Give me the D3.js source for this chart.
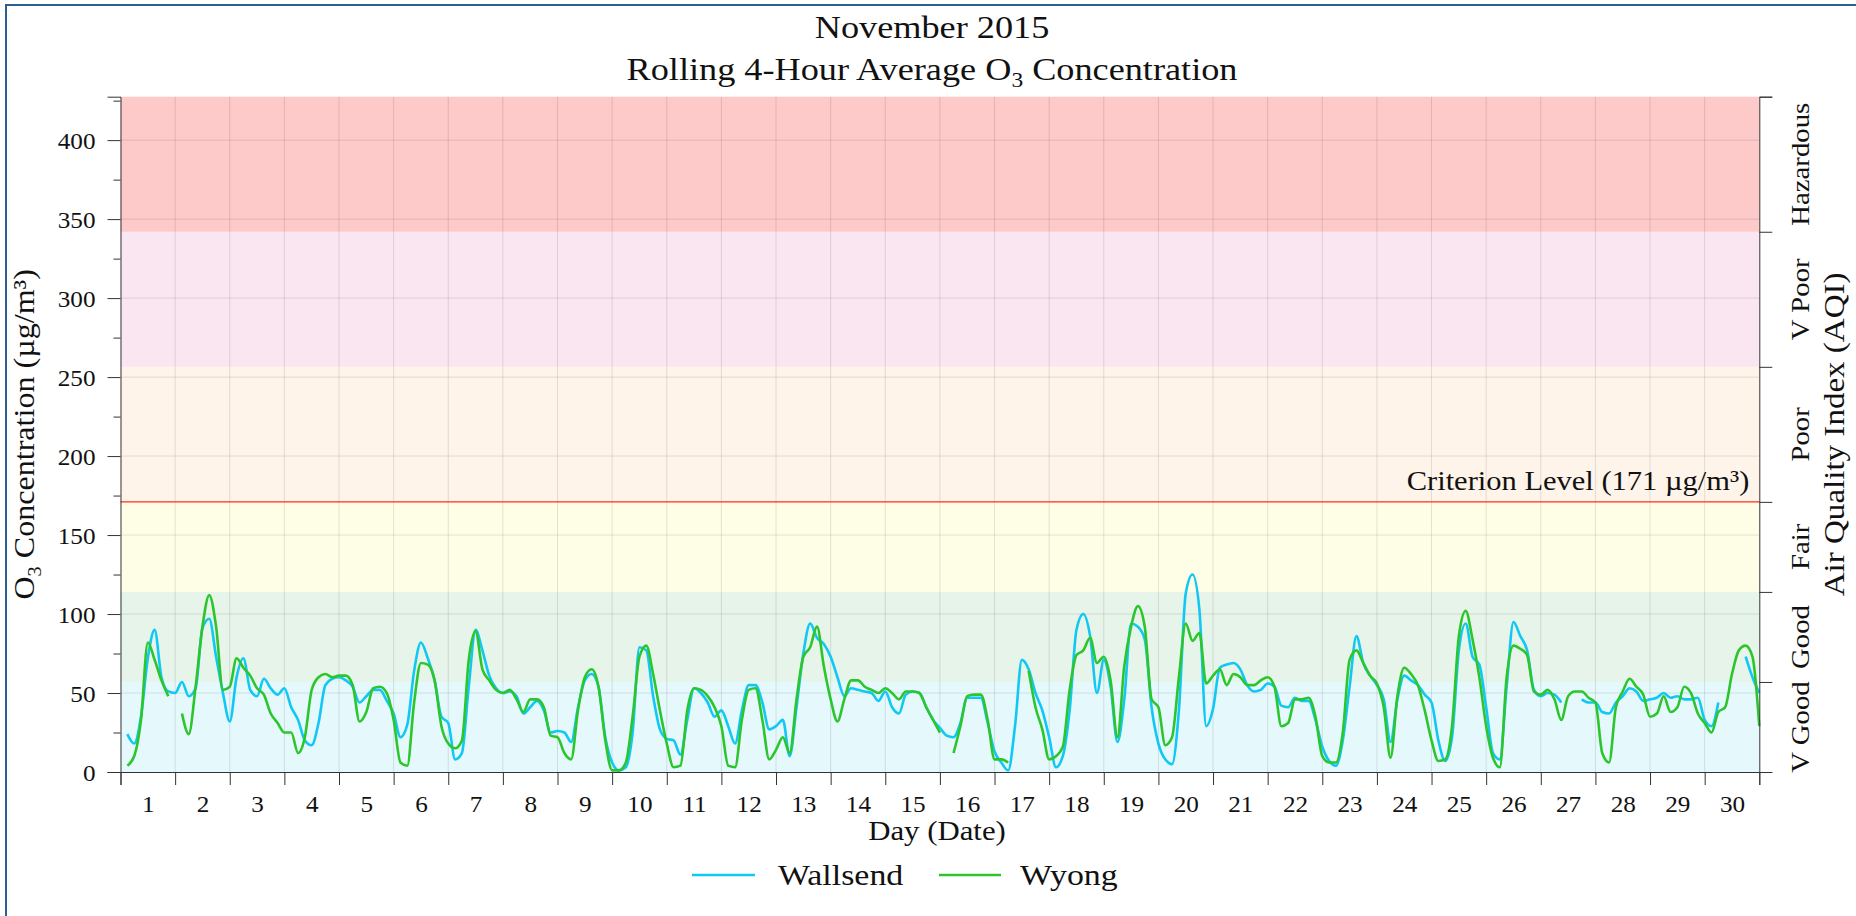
<!DOCTYPE html>
<html>
<head>
    <meta charset="utf-8">
    <script src="https://d3js.org/d3.v7.js"></script>
    <style type="text/css">
        body {
            margin: 0;
            background: #fff;
        }
        text {
            font-family: "Liberation Serif", "DejaVu Serif", serif;
            fill: #111;
        }
        .axis path, .axis line {
            stroke: #333;
        }
        .grid line {
            stroke: #000;
            stroke-opacity: 0.11;
        }
    </style>
</head>
<body>
<svg width="1856" height="916"></svg>
<script>
    // hours since 1 Nov 00:00, one reading every 3 hours
    var hours = d3.range(0, 723, 3);

    var wallsend = [
        null, 24, 18, 35, 72, 90, 60, 51,
        50, 57, 48, 53, 91, 97, 73, 50,
        32, 60, 72, 52, 48, 59, 53, 49,
        53, 41, 33, 20, 17, 31, 55, 59,
        60, 58, 54, 44, 48, 52, 52, 45,
        37, 22, 30, 64, 82, 72, 58, 35,
        31, 8, 12, 54, 90, 77, 61, 53,
        50, 51, 48, 37, 41, 45, 39, 25,
        26, 25, 19, 41, 58, 62, 54, 22,
        6, 1, 3, 25, 79, 77, 48, 27,
        21, 20, 11, 33, 53, 50, 44, 35,
        39, 29, 18, 39, 55, 55, 44, 27,
        29, 33, 10, 41, 75, 94, 85, 81,
        73, 60, 48, 53, 52, 51, 50, 45,
        51, 41, 37, 49, 51, 50, 41, 33,
        28, 23, 22, 31, 47, 47, 47, 31,
        13, 6, 1, 29, 71, 65, 50, 39,
        22, 3, 10, 39, 90, 100, 86, 50,
        71, 54, 19, 46, 94, 92, 84, 41,
        18, 8, 5, 39, 113, 125, 103, 29,
        40, 66, 68, 69, 65, 55, 51, 52,
        56, 54, 42, 41, 47, 45, 45, 33,
        16, 7, 4, 20, 54, 86, 69, 61,
        55, 46, 19, 46, 61, 58, 55, 49,
        44, 20, 7, 22, 77, 94, 73, 68,
        41, 12, 8, 54, 95, 86, 77, 52,
        48, 50, 49, 44, null, null, 46, 44,
        44, 38, 37, 44, 48, 53, 51, 45,
        46, 47, 50, 47, 48, 46, 46, 47,
        33, 29, 44, null, null, null, 73, 60,
        50
    ];

    var wyong = [
        null, 4, 10, 33, 82, 71, 58, 48,
        null, 37, 24, 54, 92, 112, 92, 52,
        54, 72, 66, 61, 53, 49, 37, 31,
        25, 25, 12, 22, 52, 60, 62, 60,
        61, 61, 55, 32, 38, 53, 54, 50,
        33, 6, 4, 44, 69, 68, 58, 29,
        18, 15, 20, 71, 89, 65, 58, 52,
        50, 52, 46, 38, 46, 46, 41, 23,
        22, 12, 8, 39, 60, 65, 54, 20,
        1, 1, 6, 35, 73, 80, 62, 39,
        18, 3, 4, 39, 53, 52, 48, 41,
        29, 4, 3, 33, 52, 53, 33, 8,
        14, 22, 12, 46, 73, 79, 92, 67,
        46, 32, 46, 58, 58, 54, 52, 50,
        53, 50, 46, 51, 51, 50, 41, 33,
        25, null, 12, 29, 48, 49, 49, 33,
        8, 8, 6, null, null, 64, 41, 27,
        8, 10, 16, 52, 74, 77, 85, 69,
        73, 58, 22, 67, 92, 105, 92, 46,
        41, 17, 22, 60, 94, 83, 88, 56,
        61, 65, 55, 62, 60, 55, 55, 58,
        60, 54, 29, 31, 46, 46, 47, 35,
        10, 6, 6, 25, 71, 77, 69, 61,
        56, 41, 9, 48, 66, 62, 55, 39,
        20, 7, 8, 29, 86, 102, 84, 60,
        29, 9, 3, 60, 80, 78, 74, 51,
        49, 52, 46, 33, 48, 51, 51, 47,
        44, 12, 6, 41, 51, 59, 54, 49,
        35, 37, 48, 38, 41, 54, 50, 37,
        31, 25, 38, 41, 62, 77, 80, 73,
        29
    ];

    var dayLabels = d3.range(1, 31);
    var yTicks = [0, 50, 100, 150, 200, 250, 300, 350, 400];
    var yMinorTicks = [25, 75, 125, 175, 225, 275, 325, 375, 425];
    var aqiBreaks = [0, 57, 114, 171, 256.5, 342, 427.5];
    var aqiNames = ["V Good", "Good", "Fair", "Poor", "V Poor", "Hazardous"];
    var aqiColors = ["#e5f9fd", "#e6f4e9", "#fefee6", "#fef4ea", "#fae6f0", "#fdc9c9"];
    var criterion = 171;

    var svg = d3.select("svg");
    var margin = {top: 96.7, right: 96.7, bottom: 144, left: 120.5},
        width = 1856 - margin.left - margin.right,
        height = 916 - margin.top - margin.bottom;

    // the serif in the original is wider than Liberation, so text gets a small horizontal stretch
    function label(parent, x, y, size, sx, rotate, anchor) {
        return parent.append("text")
            .attr("transform", `translate(${x}, ${y})` + (rotate ? " rotate(-90)" : "") + ` scale(${sx}, 1)`)
            .attr("text-anchor", anchor || "middle")
            .style("font-size", size + "px");
    }

    // outer frame
    svg.append("rect")
        .attr("x", 6).attr("y", 5)
        .attr("width", 1900).attr("height", 1000)
        .attr("fill", "none")
        .attr("stroke", "#2b5f8f")
        .attr("stroke-width", 2);

    var g = svg.append("g").attr("transform", `translate(${margin.left}, ${margin.top})`);

    var x = d3.scaleLinear().domain([0, 30]).range([0, width]);
    var y = d3.scaleLinear().domain([0, 427.5]).range([height, 0]);

    // AQI bands
    g.selectAll(".band")
        .data(aqiNames)
        .enter().append("rect")
        .attr("class", "band")
        .attr("x", 0)
        .attr("width", width)
        .attr("y", (d, i) => y(aqiBreaks[i + 1]))
        .attr("height", (d, i) => y(aqiBreaks[i]) - y(aqiBreaks[i + 1]))
        .attr("fill", (d, i) => aqiColors[i]);

    // grid
    g.append("g")
        .attr("class", "grid")
        .selectAll("line")
        .data(d3.range(1, 30))
        .enter().append("line")
        .attr("x1", d => x(d)).attr("x2", d => x(d))
        .attr("y1", 0).attr("y2", height);

    g.append("g")
        .attr("class", "grid")
        .selectAll("line")
        .data(yTicks.slice(1))
        .enter().append("line")
        .attr("x1", 0).attr("x2", width)
        .attr("y1", d => y(d)).attr("y2", d => y(d));

    // criterion line
    g.append("line")
        .attr("x1", 0).attr("x2", width)
        .attr("y1", y(criterion)).attr("y2", y(criterion))
        .attr("stroke", "#ff2b1c")
        .attr("stroke-width", 1.3);

    label(g, width - 10, y(criterion) - 12, 28, 1.09, false, "end")
        .text("Criterion Level (171 µg/m³)");

    // series
    var wallsendData = hours.map((h, i) => ({day: h / 24, v: wallsend[i]}));
    var wyongData = hours.map((h, i) => ({day: h / 24, v: wyong[i]}));

    var line = d3.line()
        .defined(d => d.v != null)
        .curve(d3.curveMonotoneX)
        .x(d => x(d.day))
        .y(d => y(d.v));

    g.append("path")
        .datum(wallsendData)
        .attr("fill", "none")
        .attr("stroke", "#11c7f3")
        .attr("stroke-width", 2.6)
        .attr("d", line);

    g.append("path")
        .datum(wyongData)
        .attr("fill", "none")
        .attr("stroke", "#2cc62c")
        .attr("stroke-width", 2.6)
        .attr("d", line);

    // left axis
    var yAxis = g.append("g")
        .attr("class", "axis")
        .call(d3.axisLeft(y).tickValues(yTicks).tickSize(13).tickPadding(12));
    yAxis.selectAll("text")
        .style("font-size", "24px")
        .attr("dy", "0.34em")
        .attr("x", -25 / 1.05)
        .attr("transform", "scale(1.05, 1)");

    g.append("g")
        .attr("class", "axis")
        .call(d3.axisLeft(y).tickValues(yMinorTicks).tickSize(7).tickFormat(""))
        .select(".domain").remove();

    // bottom axis
    g.append("g")
        .attr("class", "axis")
        .attr("transform", `translate(0, ${height})`)
        .call(d3.axisBottom(x).tickValues(d3.range(0, 31)).tickSize(13).tickFormat(""));

    var xLabels = g.append("g")
        .attr("class", "axis")
        .attr("transform", `translate(0, ${height})`)
        .call(d3.axisBottom(x).tickValues(dayLabels.map(d => d - 0.5)).tickSize(0).tickPadding(23)
            .tickFormat((d, i) => dayLabels[i]));
    xLabels.select(".domain").remove();
    xLabels.selectAll("text").style("font-size", "24px").attr("transform", "scale(1.05, 1)");

    // right axis (AQI)
    g.append("g")
        .attr("class", "axis")
        .attr("transform", `translate(${width}, 0)`)
        .call(d3.axisRight(y).tickValues(aqiBreaks).tickSize(13).tickFormat(""));

    aqiNames.forEach(function(name, i) {
        label(g, width + 50, y((aqiBreaks[i] + aqiBreaks[i + 1]) / 2), 25, 1.15, true).text(name);
    });

    // axis titles
    label(g, width + 85, height / 2, 29, 1.14, true).text("Air Quality Index (AQI)");

    var yTitle = label(svg, 34, margin.top + height / 2, 30, 1.07, true);
    yTitle.append("tspan").text("O");
    yTitle.append("tspan").attr("dy", 7).style("font-size", "19px").text("3");
    yTitle.append("tspan").attr("dy", -7).text(" Concentration (µg/m³)");

    label(svg, 937, 840, 28, 1.1).text("Day (Date)");

    // title
    label(svg, 932, 37.5, 31, 1.17).text("November 2015");

    var title2 = label(svg, 932, 80, 31, 1.17);
    title2.append("tspan").text("Rolling 4-Hour Average O");
    title2.append("tspan").attr("dy", 7).style("font-size", "20px").text("3");
    title2.append("tspan").attr("dy", -7).text(" Concentration");

    // legend
    var legend = svg.append("g");
    legend.append("line")
        .attr("x1", 692).attr("x2", 755).attr("y1", 875).attr("y2", 875)
        .attr("stroke", "#11c7f3").attr("stroke-width", 2.6);
    label(legend, 778, 885, 30, 1.13, false, "start").text("Wallsend");
    legend.append("line")
        .attr("x1", 939).attr("x2", 1001).attr("y1", 875).attr("y2", 875)
        .attr("stroke", "#2cc62c").attr("stroke-width", 2.6);
    label(legend, 1020, 885, 30, 1.13, false, "start").text("Wyong");
</script>
</body>
</html>
